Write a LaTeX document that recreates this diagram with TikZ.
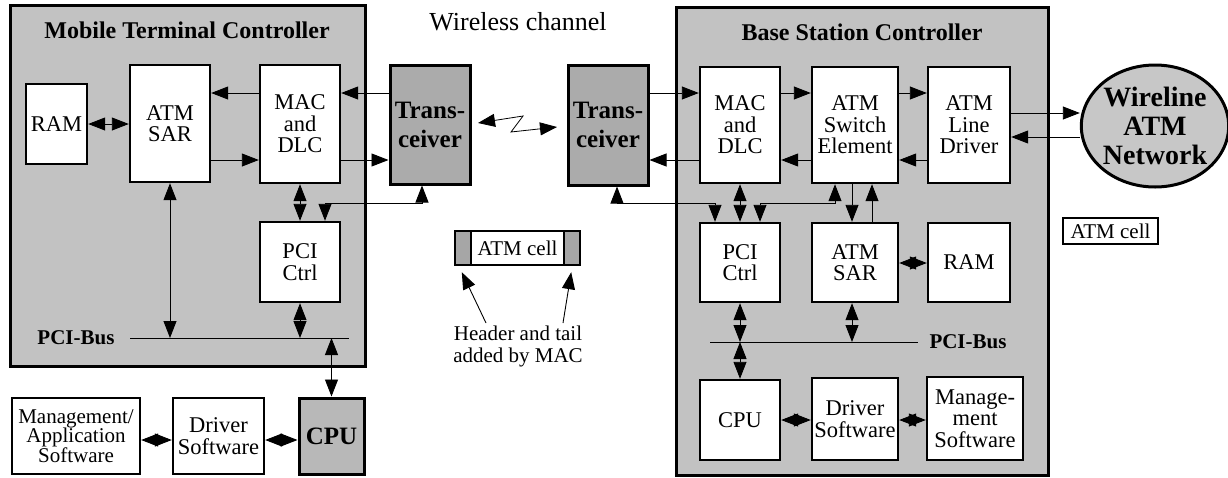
\documentclass[tikz,border=0pt]{standalone}
\usepackage{fontspec}
\setmainfont{Liberation Serif}
\usetikzlibrary{arrows.meta,shapes.geometric}
\begin{document}
\begin{tikzpicture}[x=1pt,y=-1pt,
  container/.style={draw, line width=3pt, fill=black!24, inner sep=0pt},
  blk/.style={draw, line width=2.4pt, fill=white, inner sep=0pt, align=center,
    font=\fontsize{22.5}{21.5}\selectfont},
  darkblk/.style={draw, line width=3pt, fill=black!33, inner sep=0pt, align=center,
    font=\fontsize{25}{29}\selectfont\bfseries},
  title/.style={font=\fontsize{24}{24}\selectfont\bfseries, inner sep=0pt},
  plain/.style={font=\fontsize{21}{22}\selectfont, inner sep=0pt, align=center},
  tip/.tip={Triangle[length=17pt,width=13pt]},
  arr/.style={-tip, line width=0.9pt},
  dbl/.style={tip-tip, line width=0.9pt},
  busline/.style={line width=0.9pt}
]
\useasboundingbox (0,0) rectangle (1228,477);

% ---------- containers ----------
\node[container, minimum width=355pt, minimum height=361pt] (mtc) at (187.5,185.5) {};
\node[container, minimum width=372pt, minimum height=468pt] (bsc) at (862,241) {};
\node[title] (ttlL) at (187,30) {Mobile Terminal Controller};
\node[title] (ttlR) at (862,32) {Base Station Controller};
\node[font=\fontsize{26}{26}\selectfont, inner sep=0pt] (wc) at (518,22) {Wireless channel};

% ---------- mobile terminal ----------
\node[blk, minimum width=61pt, minimum height=80pt] (ramL) at (56.5,124) {RAM};
\node[blk, minimum width=80pt, minimum height=117pt] (sarL) at (170,123.5) {ATM\\SAR};
\node[blk, minimum width=80pt, minimum height=118pt] (macL) at (300,124) {MAC\\and\\DLC};
\node[blk, minimum width=80pt, minimum height=80pt] (pciL) at (300,262) {PCI\\Ctrl};
\node[darkblk, minimum width=80pt, minimum height=119pt] (trL) at (430,124.5) {Trans-\\ceiver};
\node[darkblk, minimum width=65pt, minimum height=76pt, fill=black!28, font=\fontsize{25}{25}\selectfont\bfseries] (cpuL) at (331.5,436) {CPU};
\node[blk, minimum width=91pt, minimum height=76pt] (drvL) at (218.5,436) {Driver\\Software};
\node[blk, minimum width=128pt, minimum height=76pt, font=\fontsize{21}{19.5}\selectfont] (mgmtL) at (76,436) {Management/\\Application\\Software};

% ---------- base station ----------
\node[darkblk, minimum width=80pt, minimum height=120pt] (trR) at (608,125) {Trans-\\ceiver};
\node[blk, minimum width=80pt, minimum height=116pt] (macR) at (740,125) {MAC\\and\\DLC};
\node[blk, minimum width=86pt, minimum height=116pt] (swR) at (855,125) {ATM\\Switch\\Element};
\node[blk, minimum width=82pt, minimum height=116pt] (ldR) at (969,125) {ATM\\Line\\Driver};
\node[blk, minimum width=80pt, minimum height=79pt] (pciR) at (740,262.5) {PCI\\Ctrl};
\node[blk, minimum width=86pt, minimum height=79pt] (sarR) at (855,262.5) {ATM\\SAR};
\node[blk, minimum width=82pt, minimum height=79pt] (ramR) at (969,262.5) {RAM};
\node[blk, minimum width=80pt, minimum height=80pt] (cpuR) at (740,420) {CPU};
\node[blk, minimum width=86pt, minimum height=82pt] (drvR) at (855,419) {Driver\\Software};
\node[blk, minimum width=96pt, minimum height=83pt] (mgmtR) at (975,418.5) {Manage-\\ment\\Software};
\node[draw, ellipse, line width=3pt, fill=black!22, inner sep=0pt, align=center,
  minimum width=144pt, minimum height=122pt,
  font=\fontsize{28}{29}\selectfont\bfseries] (net) at (1155,126) {Wireline\\ATM\\Network};
\node[draw, line width=2pt, fill=white, inner sep=0pt, minimum width=95pt, minimum height=26pt,
  font=\fontsize{21}{21}\selectfont] (cellR) at (1110.5,231) {ATM cell};

% ---------- middle cell ----------
\node[draw, line width=2.4pt, fill=white, inner sep=0pt, minimum width=125pt, minimum height=34pt,
  font=\fontsize{21}{21}\selectfont] (cellM) at (517.5,248) {ATM cell};
\fill[black!35] (456.3,232.3) rectangle (471,263.7);
\fill[black!35] (564,232.3) rectangle (578.7,263.7);
\draw[line width=1.2pt] (471,232) -- (471,264);
\draw[line width=1.2pt] (564,232) -- (564,264);
\node[plain] (hdr) at (518,346) {Header and tail\\added by MAC};
\coordinate (h1) at (486,323);
\coordinate (h2) at (563,323);
\coordinate (t1) at ([xshift=8pt,yshift=-6pt]cellM.south west);
\coordinate (t2) at ([xshift=-10pt,yshift=-6pt]cellM.south east);
\draw[arr] (h1) -- (t1);
\draw[arr] (h2) -- (t2);

% ---------- level coordinates ----------
\coordinate (y93) at (0,93);
\coordinate (y160) at (0,160);
\coordinate (y203) at (0,203);
\coordinate (y113) at (0,113);
\coordinate (y137) at (0,137);
\coordinate (y440) at (0,440);
\coordinate (y420) at (0,420);
\coordinate (y263) at (0,263);
\coordinate (x325) at (325,0);
\coordinate (x422) at (422,0);
\coordinate (x617) at (617,0);
\coordinate (x715) at (715,0);
\coordinate (x760) at (760,0);
\coordinate (x835) at (835,0);
\coordinate (x852) at (852,0);
\coordinate (x872) at (872,0);

% ---------- buses ----------
\coordinate (busLa) at (130,338);
\coordinate (busLb) at (349,338);
\draw[busline] (busLa) -- (busLb);
\node[font=\fontsize{21}{21}\selectfont\bfseries, inner sep=0pt] (pbL) at (76,338) {PCI-Bus};
\coordinate (busRa) at (710,342);
\coordinate (busRb) at (918,342);
\draw[busline] (busRa) -- (busRb);
\node[font=\fontsize{21}{21}\selectfont\bfseries, inner sep=0pt] (pbR) at (968,342) {PCI-Bus};

% ---------- mobile terminal connectors ----------
\draw[arr] (trL.west |- y93) -- (macL.east |- y93);
\draw[arr] (macL.east |- y160) -- (trL.west |- y160);
\draw[arr] (macL.west |- y93) -- (sarL.east |- y93);
\draw[arr] (sarL.east |- y160) -- (macL.west |- y160);
\draw[dbl] (ramL.east) -- (ramL.east -| sarL.west);
\draw[dbl] (macL.south) -- (pciL.north);
\draw[dbl] (pciL.north -| x325) -- (x325 |- y203) -- (x422 |- y203) -- (trL.south -| x422);
\draw[dbl] (sarL.south) -- (sarL.south |- busLa);
\draw[dbl] (pciL.south) -- (pciL.south |- busLa);
\draw[dbl] (cpuL.north |- busLa) -- (cpuL.north);
\draw[dbl] (mgmtL.east |- y440) -- (drvL.west |- y440);
\draw[dbl] (drvL.east |- y440) -- (cpuL.west |- y440);

% ---------- wireless link ----------
\coordinate (wl) at (478,123);
\coordinate (wr) at (557,127);
\draw[dbl, line width=0.8pt] (wl) -- (523,116) -- (511,132) -- (wr);

% ---------- base station connectors ----------
\draw[arr] (trR.east |- y93) -- (macR.west |- y93);
\draw[arr] (macR.west |- y160) -- (trR.east |- y160);
\draw[arr] (macR.east |- y93) -- (swR.west |- y93);
\draw[arr] (swR.east |- y93) -- (ldR.west |- y93);
\draw[arr] (ldR.west |- y160) -- (swR.east |- y160);
\draw[arr] (swR.west |- y160) -- (macR.east |- y160);
\draw[arr] (ldR.east |- y113) -- (net.west |- y113);
\draw[arr] (net.west |- y137) -- (ldR.east |- y137);
\draw[dbl] (trR.south -| x617) -- (x617 |- y203) -- (x715 |- y203) -- (pciR.north -| x715);
\draw[dbl] (macR.south) -- (pciR.north);
\draw[dbl] (pciR.north -| x760) -- (x760 |- y203) -- (x835 |- y203) -- (swR.south -| x835);
\draw[arr] (swR.south -| x852) -- (sarR.north -| x852);
\draw[arr] (sarR.north -| x872) -- (swR.south -| x872);
\draw[dbl] (pciR.south) -- (pciR.south |- busRa);
\draw[dbl] (cpuR.north |- busRa) -- (cpuR.north);
\draw[dbl] (sarR.south -| x852) -- (x852 |- busRa);
\draw[dbl] (sarR.east |- y263) -- (ramR.west |- y263);
\draw[dbl] (cpuR.east |- y420) -- (drvR.west |- y420);
\draw[dbl] (drvR.east |- y420) -- (mgmtR.west |- y420);
\end{tikzpicture}
\end{document}
